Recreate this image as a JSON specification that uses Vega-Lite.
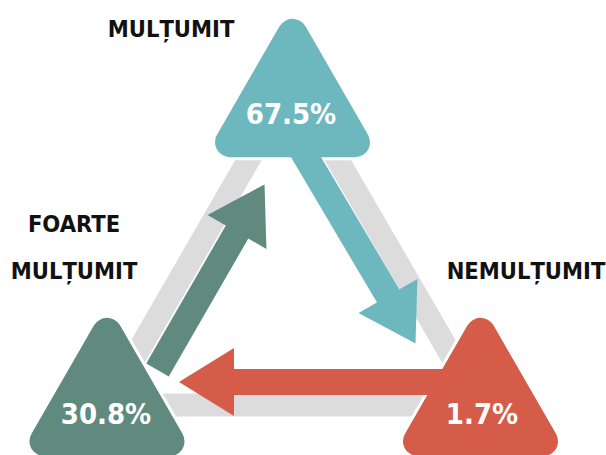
{
  "$schema": "https://vega.github.io/schema/vega-lite/v6.json",
  "width": 606,
  "height": 455,
  "padding": 0,
  "autosize": {"type": "none"},
  "background": "white",
  "config": {"view": {"stroke": null}},
  "datasets": {
    "frame": [
      {"o": 1, "x": 293, "y": 83},
      {"o": 2, "x": 480, "y": 405},
      {"o": 3, "x": 107, "y": 405},
      {"o": 4, "x": 293, "y": 83},
      {"o": 5, "x": 480, "y": 405}
    ],
    "nodes": [
      {"cat": "multumit", "x": 292.5, "y": 88},
      {"cat": "foarte", "x": 107, "y": 387},
      {"cat": "nemultumit", "x": 480.5, "y": 387}
    ],
    "shafts": [
      {"cat": "multumit", "o": 1, "x": 300, "y": 147},
      {"cat": "multumit", "o": 2, "x": 390, "y": 299},
      {"cat": "foarte", "o": 1, "x": 157.5, "y": 370},
      {"cat": "foarte", "o": 2, "x": 238.5, "y": 229.5},
      {"cat": "nemultumit", "o": 1, "x": 445, "y": 382},
      {"cat": "nemultumit", "o": 2, "x": 232, "y": 382}
    ],
    "heads": [
      {"cat": "multumit", "x": 401.75, "y": 319.8},
      {"cat": "foarte", "x": 250.75, "y": 208.2},
      {"cat": "nemultumit", "x": 206.5, "y": 382}
    ],
    "values": [
      {"cat": "multumit", "text": "67.5%", "x": 291, "y": 124},
      {"cat": "foarte", "text": "30.8%", "x": 106, "y": 424},
      {"cat": "nemultumit", "text": "1.7%", "x": 482, "y": 424}
    ],
    "labels": [
      {"text": "MULȚUMIT", "x": 171, "y": 37},
      {"text": "FOARTE", "x": 74, "y": 232},
      {"text": "MULȚUMIT", "x": 74, "y": 279},
      {"text": "NEMULȚUMIT", "x": 526, "y": 279}
    ]
  },
  "encoding": {
    "x": {"field": "x", "type": "quantitative", "axis": null, "scale": {"domain": [0, 606], "nice": false, "zero": false}},
    "y": {"field": "y", "type": "quantitative", "axis": null, "scale": {"domain": [0, 455], "nice": false, "zero": false, "reverse": true}}
  },
  "layer": [
    {
      "data": {"name": "frame"},
      "mark": {"type": "line", "stroke": "#dcdcdc", "strokeWidth": 23, "strokeJoin": "miter", "strokeCap": "butt"},
      "encoding": {"order": {"field": "o", "type": "quantitative"}}
    },
    {
      "data": {"name": "nodes"},
      "mark": {"type": "point", "shape": "triangle-up", "size": 15625, "filled": true, "fill": "white", "stroke": "white", "strokeWidth": 36, "strokeJoin": "round", "opacity": 1}
    },
    {
      "data": {"name": "shafts"},
      "mark": {"type": "line", "strokeWidth": 26, "strokeCap": "butt"},
      "encoding": {
        "order": {"field": "o", "type": "quantitative"},
        "detail": {"field": "cat"},
        "color": {"field": "cat", "type": "nominal", "legend": null, "scale": {"domain": ["multumit", "foarte", "nemultumit"], "range": ["#6db8bf", "#608a7e", "#d45c48"]}}
      }
    },
    {
      "data": {"name": "heads"},
      "transform": [{"filter": "datum.cat == 'multumit'"}],
      "mark": {"type": "point", "shape": "M0,-0.809L1,0.809L-1,0.809Z", "size": 4624, "filled": true, "angle": 150, "opacity": 1, "fill": "#6db8bf"}
    },
    {
      "data": {"name": "heads"},
      "transform": [{"filter": "datum.cat == 'foarte'"}],
      "mark": {"type": "point", "shape": "M0,-0.809L1,0.809L-1,0.809Z", "size": 4624, "filled": true, "angle": 30, "opacity": 1, "fill": "#608a7e"}
    },
    {
      "data": {"name": "heads"},
      "transform": [{"filter": "datum.cat == 'nemultumit'"}],
      "mark": {"type": "point", "shape": "M0,-0.809L1,0.809L-1,0.809Z", "size": 4624, "filled": true, "angle": 270, "opacity": 1, "fill": "#d45c48"}
    },
    {
      "data": {"name": "nodes"},
      "mark": {"type": "point", "shape": "triangle-up", "size": 15625, "filled": true, "strokeWidth": 30, "strokeJoin": "round", "opacity": 1},
      "encoding": {
        "fill": {"field": "cat", "type": "nominal", "legend": null, "scale": {"domain": ["multumit", "foarte", "nemultumit"], "range": ["#6db8bf", "#608a7e", "#d45c48"]}},
        "stroke": {"field": "cat", "type": "nominal", "legend": null, "scale": {"domain": ["multumit", "foarte", "nemultumit"], "range": ["#6db8bf", "#608a7e", "#d45c48"]}}
      }
    },
    {
      "data": {"name": "values"},
      "mark": {"type": "text", "font": "DejaVu Sans Condensed, sans-serif", "fontWeight": "bold", "fontSize": 29, "fill": "white", "align": "center", "baseline": "alphabetic"},
      "encoding": {"text": {"field": "text"}}
    },
    {
      "data": {"name": "labels"},
      "mark": {"type": "text", "font": "DejaVu Sans Condensed, sans-serif", "fontWeight": "bold", "fontSize": 23.5, "fill": "#111111", "align": "center", "baseline": "alphabetic"},
      "encoding": {"text": {"field": "text"}}
    }
  ]
}
